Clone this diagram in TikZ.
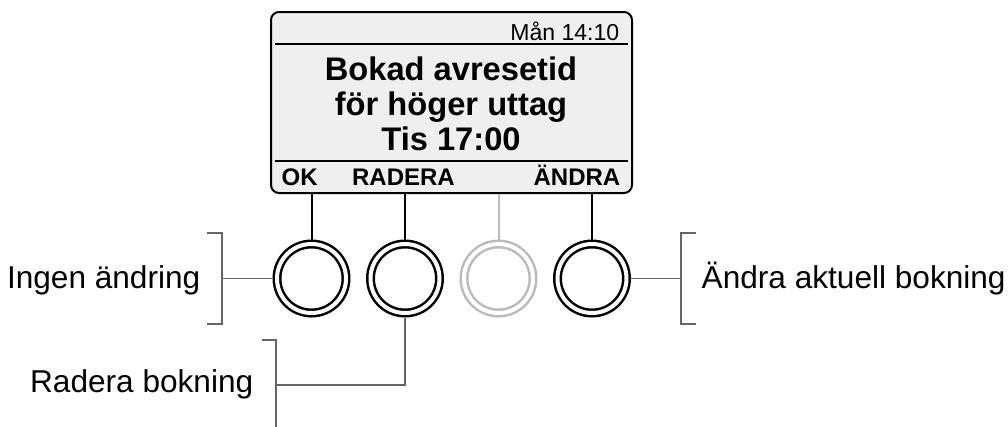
\documentclass[tikz,border=0pt]{standalone}
\usepackage{fontspec}
\setmainfont{Liberation Sans}
\definecolor{skarmgra}{HTML}{EFEFEF}
\definecolor{klammergra}{HTML}{666666}
\definecolor{avstangd}{HTML}{BBBBBB}
\begin{document}
\begin{tikzpicture}[x=0.75pt,y=-0.75pt,
    knapp/.style={circle,draw,line width=1.875pt,double=white,double distance=3pt,
      minimum size=51.75pt,inner sep=0pt,outer sep=3.375pt},
    trad/.style={line width=1.5pt},
    klammer/.style={draw=klammergra,line width=1pt},
    etikett/.style={font=\fontsize{23.7}{28}\selectfont},
    rad/.style={anchor=base,font=\fontsize{24.5}{28}\selectfont\bfseries},
    val/.style={font=\fontsize{18}{21}\selectfont\bfseries}]
  \useasboundingbox (0,0) rectangle (1008,426);

  % display
  \node[draw,line width=1.5pt,fill=skarmgra,rounded corners=6pt,
    minimum width=270.75pt,minimum height=135.75pt] (skarm) at (451.5,102.5) {};
  \draw[trad] (275,44) -- (628,44);
  \draw[trad] (275,161) -- (628,161);

  \node[anchor=base east,font=\fontsize{17.3}{20}\selectfont] (klocka) at (624,40) {Mån 14:10};
  \node[rad] (rad1) at (451,80) {Bokad avresetid};
  \node[rad] (rad2) at (451,115) {för höger uttag};
  \node[rad] (rad3) at (451,150) {Tis 17:00};

  \node[val,anchor=base west] (valOK) at (277,185) {OK};
  \node[val,anchor=base] (valRadera) at (403.5,185) {RADERA};
  \node[val,anchor=base east] (valAndra) at (625,185) {ÄNDRA};

  % knappar
  \node[knapp] (knappOK) at (311.5,278.5) {};
  \node[knapp] (knappRadera) at (405,278.5) {};
  \node[knapp,draw=avstangd] (knappTom) at (498.5,278.5) {};
  \node[knapp] (knappAndra) at (592,278.5) {};

  \draw[trad] (knappOK.north) -- (knappOK.north |- skarm.south);
  \draw[trad] (knappRadera.north) -- (knappRadera.north |- skarm.south);
  \draw[trad,avstangd] (knappTom.north) -- (knappTom.north |- skarm.south);
  \draw[trad] (knappAndra.north) -- (knappAndra.north |- skarm.south);

  % forklaringar
  \node[etikett,anchor=base east] (ingen) at (205,288) {Ingen ändring};
  \draw[klammer] (207,233) -- (222,233) -- (222,324) -- (207,324);
  \coordinate (klOK) at (222,278.5);
  \draw[klammer] (klOK) -- (knappOK.west);

  \node[etikett,anchor=base west] (andra) at (697,288) {Ändra aktuell bokning};
  \draw[klammer] (696,233) -- (681,233) -- (681,324) -- (696,324);
  \coordinate (klAndra) at (681,278.5);
  \draw[klammer] (klAndra) -- (knappAndra.east);

  \node[etikett,anchor=base east] (radera) at (258,392) {Radera bokning};
  \draw[klammer] (262,340) -- (276,340) -- (276,430);
  \coordinate (klRadera) at (276,385);
  \draw[klammer] (klRadera) -| (knappRadera.south);
\end{tikzpicture}
\end{document}
